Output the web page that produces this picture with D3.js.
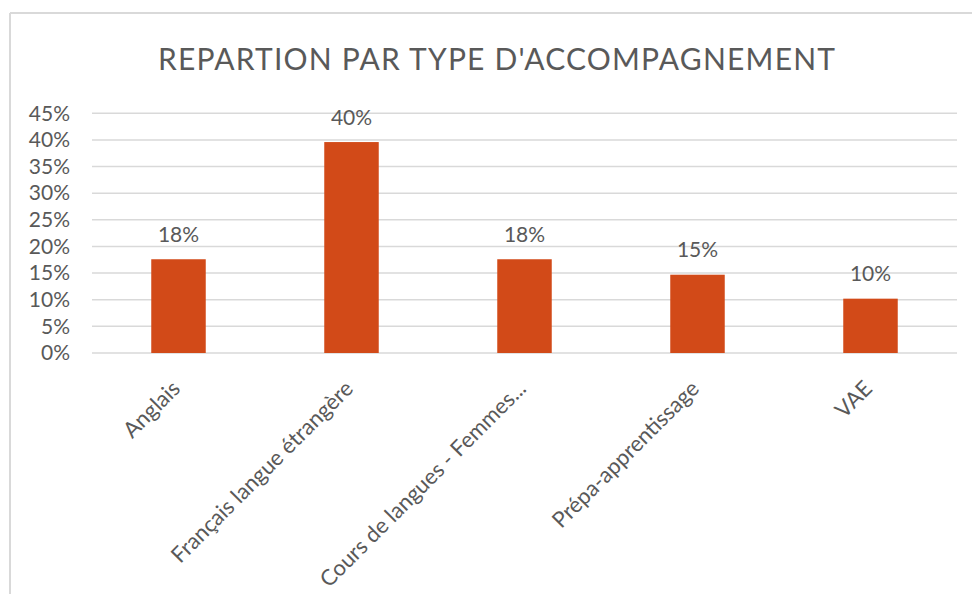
<!DOCTYPE html>
<html>
<head>
<meta charset="utf-8">
<script src="https://cdn.jsdelivr.net/npm/d3@7"></script>
<style>
  html, body { margin: 0; padding: 0; background: #fff; }
  svg { display: block; }
  text { font-family: Lato, "Open Sans", sans-serif; fill: #595959; }
</style>
</head>
<body>
<svg id="chart" width="972" height="594"></svg>
<script>
const title = "REPARTION PAR TYPE D'ACCOMPAGNEMENT";
const categories = ["Anglais", "Français langue étrangère", "Cours de langues - Femmes...", "Prépa-apprentissage", "VAE"];
const values = [0.176, 0.396, 0.176, 0.147, 0.102];
const yTicks = [0, 0.05, 0.10, 0.15, 0.20, 0.25, 0.30, 0.35, 0.40, 0.45];

const svg = d3.select("#chart");
const W = 972, H = 594;
const plot = { left: 92, right: 957, top: 113.3, bottom: 353 };

// chart frame (top and left edges visible)
svg.append("line").attr("x1", 10).attr("x2", W).attr("y1", 13).attr("y2", 13)
  .attr("stroke", "#d9d9d9").attr("stroke-width", 2);
svg.append("line").attr("x1", 10).attr("x2", 10).attr("y1", 13).attr("y2", H)
  .attr("stroke", "#d9d9d9").attr("stroke-width", 2);

// title
svg.append("text")
  .attr("x", 496.5).attr("y", 70)
  .attr("text-anchor", "middle")
  .attr("textLength", 677)
  .attr("lengthAdjust", "spacing")
  .style("font-size", "30px")
  .style("font-weight", 400)
  .text(title);

const x = d3.scaleBand()
  .domain(categories)
  .range([plot.left, plot.right])
  .paddingInner(0.685)
  .paddingOuter(0.3425);

const y = d3.scaleLinear()
  .domain([0, 0.45])
  .range([plot.bottom, plot.top]);

// gridlines
svg.append("g").selectAll("line")
  .data(yTicks)
  .join("line")
  .attr("x1", plot.left).attr("x2", plot.right)
  .attr("y1", d => y(d)).attr("y2", d => y(d))
  .attr("stroke", "#d9d9d9").attr("stroke-width", 1.5);

// y axis labels
const yAxis = d3.axisLeft(y)
  .tickValues(yTicks)
  .tickFormat(d3.format(".0%"))
  .tickSize(0)
  .tickPadding(0);
const gy = svg.append("g")
  .attr("transform", `translate(70,0)`)
  .call(yAxis);
gy.select(".domain").remove();
gy.selectAll("text")
  .style("font-size", "21px")
  .style("font-family", "Lato, 'Open Sans', sans-serif")
  .attr("fill", "#595959");

// bars
svg.append("g").selectAll("rect")
  .data(values)
  .join("rect")
  .attr("x", (d, i) => x(categories[i]))
  .attr("width", x.bandwidth())
  .attr("y", d => y(d))
  .attr("height", d => y(0) - y(d))
  .attr("fill", "#D24A18");

// data labels
svg.append("g").selectAll("text")
  .data(values)
  .join("text")
  .attr("x", (d, i) => x(categories[i]) + x.bandwidth() / 2)
  .attr("y", d => y(d) - 17.5)
  .attr("text-anchor", "middle")
  .style("font-size", "21px")
  .text(d => d3.format(".0%")(d));

// category labels
const xAxis = d3.axisBottom(x).tickSize(0).tickPadding(0);
const gx = svg.append("g")
  .attr("transform", `translate(0,${plot.bottom})`)
  .call(xAxis);
gx.select(".domain").remove();
gx.selectAll(".tick text")
  .attr("text-anchor", "end")
  .attr("dy", null)
  .attr("y", 0)
  .attr("transform", "translate(3,37) rotate(-45)")
  .style("font-size", "22px")
  .style("font-family", "Lato, 'Open Sans', sans-serif")
  .attr("fill", "#595959");
</script>
</body>
</html>
